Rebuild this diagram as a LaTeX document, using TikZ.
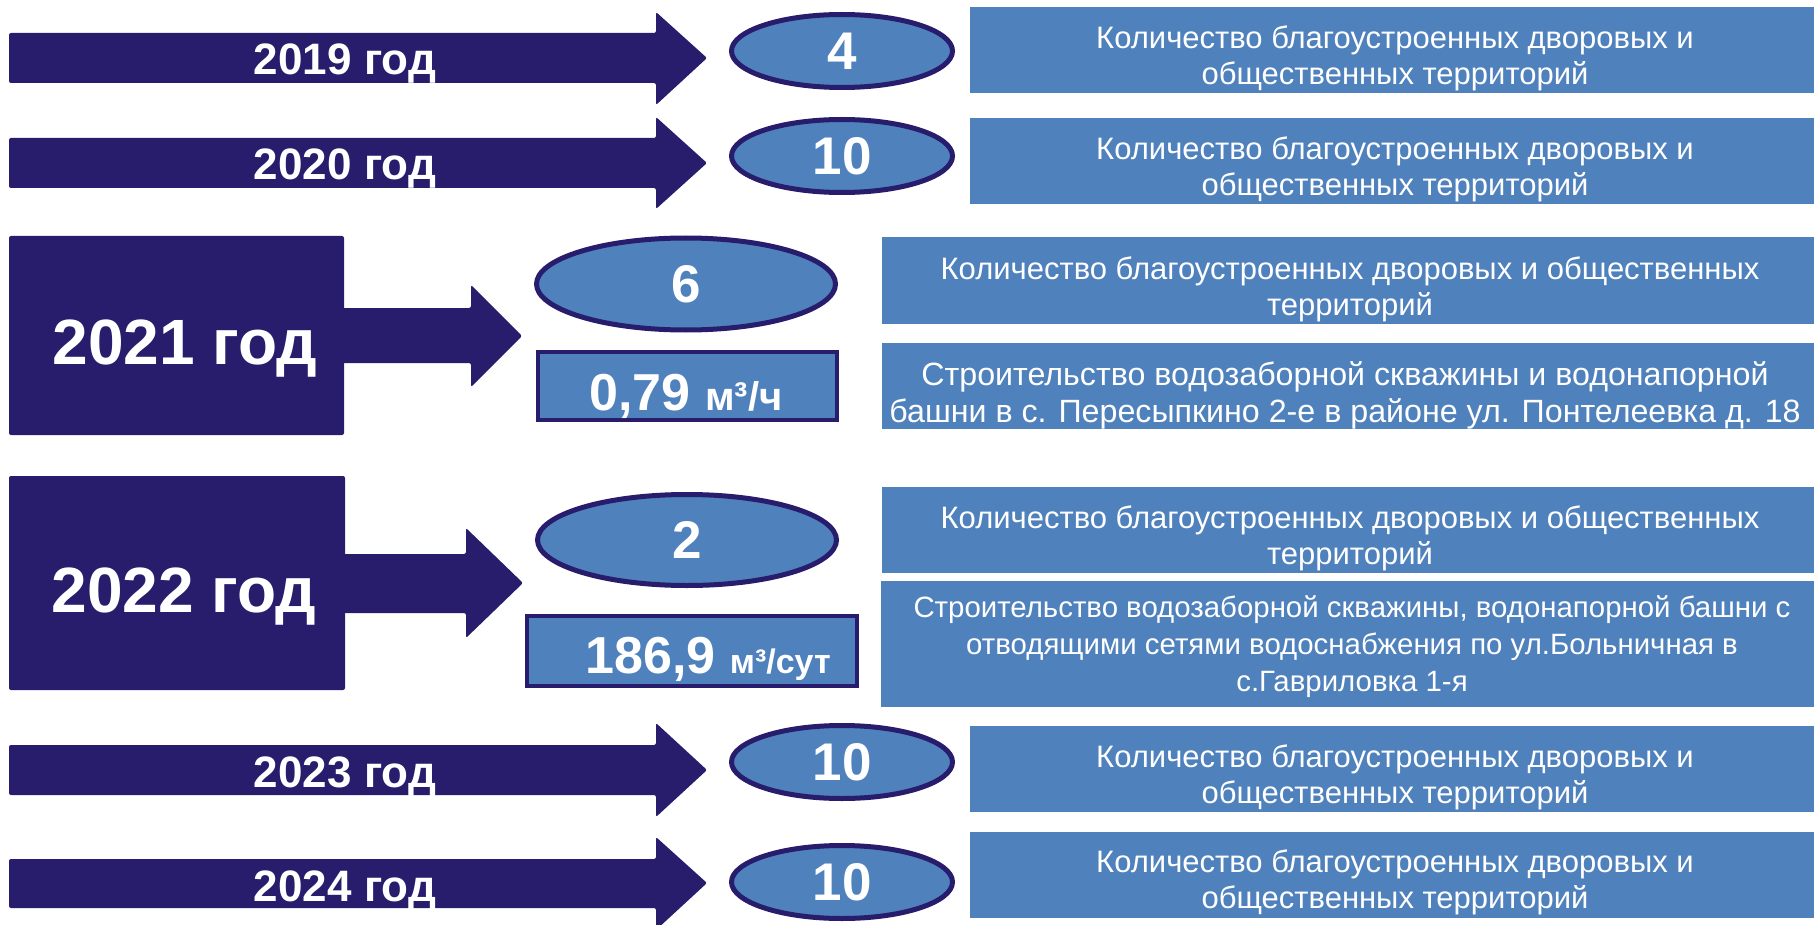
\documentclass[tikz,border=0pt]{standalone}
\usepackage{fontspec}
\setmainfont{Liberation Sans}
\usetikzlibrary{shapes.geometric}
\definecolor{navy}{HTML}{271D6C}
\definecolor{steel}{HTML}{4F81BD}
\begin{document}
\begin{tikzpicture}[x=0.5pt, y=-0.5pt,
yeararrow/.style={fill=navy, rounded corners=1pt},
yearbox/.style={fill=navy, rounded corners=1pt, inner sep=0pt},
yeartext/.style={text=white, anchor=base, font=\bfseries\fontsize{22}{26}\selectfont},
bigyear/.style={text=white, anchor=base, font=\bfseries\fontsize{32}{36}\selectfont},
numell/.style={ellipse, draw=navy, line width=2.5pt, fill=steel, inner sep=0pt, text=white, font=\bfseries\fontsize{26.5}{30}\selectfont},
valbox/.style={draw=navy, line width=2pt, fill=steel, inner sep=0pt},
valtext/.style={text=white, anchor=base, font=\bfseries\fontsize{26}{30}\selectfont},
descbox/.style={fill=steel, inner sep=0pt, minimum height=43pt},
desctext/.style={text=white, align=center, inner sep=0pt, font=\fontsize{15.5}{18}\selectfont}]
    \useasboundingbox (0,0) rectangle (1814,925);
    % 2019
    \fill[yeararrow] (9,33) -- (656,33) -- (656,12) -- (707,58) -- (656,105) -- (656,83) -- (9,83) -- cycle;
    \node[yeartext] (t2019) at (345,75) {2019 год};
    \node[numell, minimum width=110.5pt, minimum height=36.5pt] (n2019) at (842,51) {4};
    \node[descbox, minimum width=422pt] (b2019) at (1392,50) {};
    \node[desctext] (d2019) at (1395,58) {Количество благоустроенных дворовых и\\общественных территорий};
    % 2020
    \fill[yeararrow] (9,138) -- (656,138) -- (656,117) -- (707,163) -- (656,209) -- (656,188) -- (9,188) -- cycle;
    \node[yeartext] (t2020) at (345,180) {2020 год};
    \node[numell, minimum width=110.5pt, minimum height=36.5pt] (n2020) at (842,156) {10};
    \node[descbox, minimum width=422pt] (b2020) at (1392,161) {};
    \node[desctext] (d2020) at (1395,169) {Количество благоустроенных дворовых и\\общественных территорий};
    % 2021
    \node[yearbox, minimum width=167.5pt, minimum height=99.5pt] (s2021) at (176.5,335.5) {};
    \node[bigyear] (t2021) at (185,364) {2021 год};
    \fill[yeararrow] (340,308) -- (471,308) -- (471,285) -- (522,336) -- (471,387) -- (471,363) -- (340,363) -- cycle;
    \node[numell, minimum width=149.5pt, minimum height=46pt] (n2021) at (686,284) {6};
    \node[valbox, minimum width=149.5pt, minimum height=34pt] (v2021) at (687.5,386) {};
    \node[valtext] (w2021) at (686,410) {0,79 {\fontsize{20}{24}\selectfont м³/ч}};
    \node[descbox, minimum width=466pt] (a2021) at (1348,280.5) {};
    \node[desctext] (e2021) at (1350,289) {Количество благоустроенных дворовых и общественных\\территорий};
    \node[descbox, minimum width=466pt] (c2021) at (1348,386) {};
    \node[desctext, font=\fontsize{16.1}{18.5}\selectfont] (f2021) at (1345,395) {Строительство водозаборной скважины и водонапорной\\башни в с. Пересыпкино 2-е в районе ул. Понтелеевка д. 18};
    % 2022
    \node[yearbox, minimum width=168pt, minimum height=107pt] (s2022) at (177,583) {};
    \node[bigyear] (t2022) at (184,612) {2022 год};
    \fill[yeararrow] (341,554) -- (466,554) -- (466,528) -- (523,583) -- (466,638) -- (466,613) -- (341,613) -- cycle;
    \node[numell, minimum width=149.5pt, minimum height=45.5pt] (n2022) at (687,540) {2};
    \node[valbox, minimum width=165pt, minimum height=35pt] (v2022) at (692,651) {};
    \node[valtext] (w2022) at (708,673) {186,9 {\fontsize{17}{20}\selectfont м³/сут}};
    \node[descbox, minimum width=466pt] (a2022) at (1348,530) {};
    \node[desctext] (e2022) at (1350,538) {Количество благоустроенных дворовых и общественных\\территорий};
    \node[descbox, minimum width=466.5pt, minimum height=63pt] (c2022) at (1347.5,644) {};
    \node[desctext, font=\fontsize{14.7}{18.5}\selectfont] (f2022) at (1352,647) {Строительство водозаборной скважины, водонапорной башни с\\отводящими сетями водоснабжения по ул.Больничная в\\с.Гавриловка 1-я};
    % 2023
    \fill[yeararrow] (9,745) -- (656,745) -- (656,723) -- (707,770) -- (656,817) -- (656,795) -- (9,795) -- cycle;
    \node[yeartext] (t2023) at (345,787) {2023 год};
    \node[numell, minimum width=110.5pt, minimum height=36.5pt] (n2023) at (842,762) {10};
    \node[descbox, minimum width=422pt] (b2023) at (1392,769) {};
    \node[desctext] (d2023) at (1395,777) {Количество благоустроенных дворовых и\\общественных территорий};
    % 2024
    \fill[yeararrow] (9,859) -- (656,859) -- (656,837) -- (707,883) -- (656,930) -- (656,908) -- (9,908) -- cycle;
    \node[yeartext] (t2024) at (345,901) {2024 год};
    \node[numell, minimum width=110.5pt, minimum height=36.5pt] (n2024) at (842,882) {10};
    \node[descbox, minimum width=422pt] (b2024) at (1392,874.5) {};
    \node[desctext] (d2024) at (1395,882) {Количество благоустроенных дворовых и\\общественных территорий};
\end{tikzpicture}
\end{document}
